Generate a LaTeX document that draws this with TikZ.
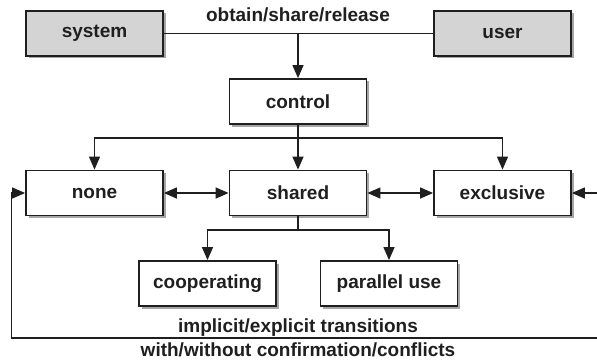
\documentclass[tikz,border=0pt]{standalone}
\usepackage{fontspec}
\setmainfont{Liberation Sans}
\usetikzlibrary{arrows.meta,shadows}
\definecolor{boxgray}{gray}{0.83}
\definecolor{ink}{gray}{0.12}
\begin{document}
\begin{tikzpicture}[x=1pt,y=-1pt,
  box/.style={draw=ink, line width=1.8pt, minimum width=137pt, minimum height=45pt,
    inner sep=0pt, fill=white, text=ink, font=\fontsize{19}{22}\selectfont\bfseries,
    drop shadow={shadow xshift=2.5pt, shadow yshift=-2.5pt, fill=black, opacity=0.35}},
  graybox/.style={box, fill=boxgray},
  lbl/.style={inner sep=0pt, anchor=base, text=ink, font=\fontsize{19}{22}\selectfont\bfseries},
  conn/.style={draw=ink, line width=1.3pt},
  arr/.style={conn, -{Triangle[length=13pt,width=11pt]}},
  darr/.style={conn, {Triangle[length=13pt,width=11pt]}-{Triangle[length=13pt,width=11pt]}}]
\useasboundingbox (0,0) rectangle (597,361);
\fill[white] (0,0) rectangle (597,361);

\node[graybox] (system) at (94.5,33.5) {system};
\node[graybox] (user) at (502.5,33.5) {user};
\node[box] (control) at (298,101.5) {control};
\node[box] (none) at (94.5,193) {none};
\node[box] (shared) at (298,193) {shared};
\node[box] (exclusive) at (502.5,193) {exclusive};
\node[box] (coop) at (207.5,283.5) {cooperating};
\node[box] (par) at (389,283.5) {parallel use};

\node[lbl] (t1) at (298,22) {obtain/share/release};
\node[lbl] (t2) at (298,332) {implicit/explicit transitions};
\node[lbl] (t3) at (298,356) {with/without confirmation/conflicts};

\coordinate (j0) at (298,33.5);
\coordinate (j1) at (298,138);
\coordinate (j2) at (298,230);
\coordinate (lr) at (603,338);
\coordinate (ll) at (11.5,338);

\draw[conn] (system) -- (user);
\draw[arr] (j0) -- (control);
\draw[conn] (control.south) -- (j1);
\draw[arr] (j1) -| (none.north);
\draw[arr] (j1) -| (exclusive.north);
\draw[arr] (j1) -- (shared.north);
\draw[darr] (none) -- (shared);
\draw[darr] (shared) -- (exclusive);
\draw[conn] (shared.south) -- (j2);
\draw[arr] (j2) -| (coop.north);
\draw[arr] (j2) -| (par.north);
\draw[arr] (lr) -- (ll) |- (none.west);
\draw[arr] (lr) |- (exclusive.east);
\end{tikzpicture}
\end{document}
